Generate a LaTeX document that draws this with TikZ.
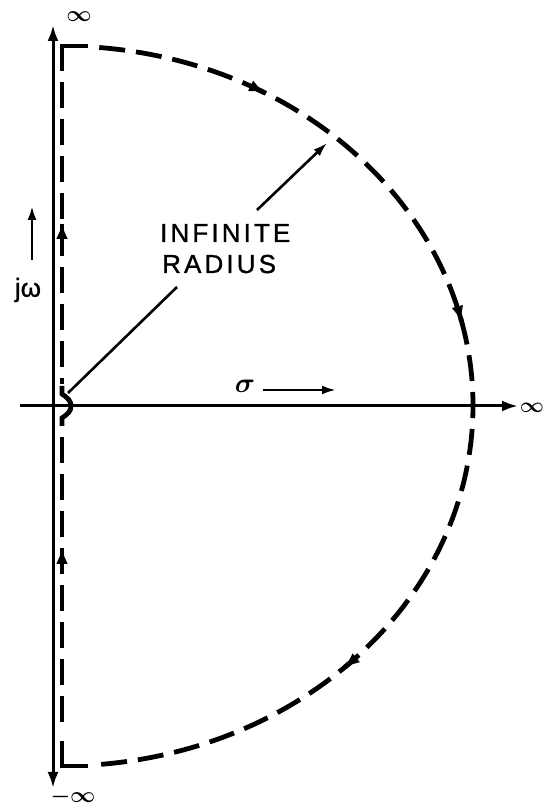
\documentclass[tikz,border=0pt]{standalone}
\usepackage{fix-cm}
\usepackage{amsmath}
\usepackage{bm}
\usepackage{fontspec}
\newfontfamily\lblfont[LetterSpace=12,FakeBold=1.2]{Liberation Sans}
\newfontfamily\symfont[FakeBold=1]{Liberation Sans}
\usetikzlibrary{arrows.meta}
\begin{document}
\begin{tikzpicture}[x=1pt,y=1pt,
  tipA/.tip={Latex[length=16pt,width=11pt]},
  axisline/.style={line width=3pt},
  contour/.style={line width=4.8pt, dash pattern=on 26pt off 11pt},
  corner/.style={line width=4.8pt, line join=miter},
  ctip/.style={line width=4.8pt,-{Latex[length=16pt,width=12pt]}},
  leader/.style={line width=2.6pt},
  lbl/.style={inner sep=0pt, anchor=base west}]
\useasboundingbox (0,0) rectangle (544,809);
% axes
\coordinate (vb) at (53,21); \coordinate (vt) at (53,784);
\coordinate (hl) at (20,403); \coordinate (hr) at (518,403);
\draw[axisline,tipA-tipA] (vb) -- (vt);
\draw[axisline,-tipA] (hl) -- (hr);
\node[inner sep=0pt] (inftop) at (79,792) {\fontsize{22}{22}\selectfont$\bm{\infty}$};
\node[inner sep=0pt] (infbot) at (73,12) {\fontsize{22}{22}\selectfont$\bm{-\infty}$};
\node[inner sep=0pt] (infright) at (532,401) {\fontsize{21}{21}\selectfont$\bm{\infty}$};
% contour corners
\draw[corner] (62,738) -- (62,763) -- (88,763);
\draw[corner] (62,68) -- (62,43) -- (88,43);
% arc
\draw[contour] ({62+411*cos(84.8)},{403+360*sin(84.8)})
  arc[start angle=84.8, end angle=-84.8, x radius=411pt, y radius=360pt];
% vertical parts with bump
\draw[contour] (62,727) -- (62,425);
\draw[corner] (62,423) -- (62,415) .. controls (68,411) and (71,408) .. (71,403) .. controls (71,398) and (68,395) .. (62,391) -- (62,383);
\draw[contour] (62,372) -- (62,79);
% direction arrows
\coordinate (d1) at (62,261);
\coordinate (d2) at (62,586);
\coordinate (a1) at ({62+411*cos(60.4)},{403+360*sin(60.4)});
\coordinate (a2) at ({62+411*cos(13.5)},{403+360*sin(13.5)});
\coordinate (a3) at ({62+411*cos(-46.7)},{403+360*sin(-46.7)});
\draw[ctip] (d1) ++(270:1pt) -- (d1);
\draw[ctip] (d2) ++(270:1pt) -- (d2);
\draw[ctip] (a1) ++(153.5:1pt) -- (a1);
\draw[ctip] (a2) ++(105.3:1pt) -- (a2);
\draw[ctip] (a3) ++(39.6:1pt) -- (a3);
% labels
\node[lbl] (inf1) at (160,567) {\fontsize{26}{26}\selectfont\lblfont INFINITE};
\node[lbl] (inf2) at (162,536) {\fontsize{26}{26}\selectfont\lblfont RADIUS};
\coordinate (l1a) at (68,416); \coordinate (l1b) at (177,522);
\coordinate (l2a) at (257,599); \coordinate (l2b) at (327,666);
\draw[leader] (l1a) -- (l1b);
\draw[leader,-{Latex[length=14pt,width=9pt]}] (l2a) -- (l2b);
% jw
\node (jw) at (28,519) {\fontsize{26}{26}\selectfont\symfont jω};
\coordinate (jwa) at (32,549); \coordinate (jwb) at (32,603);
\draw[leader,-{Latex[length=14pt,width=9pt]}] (jwa) -- (jwb);
% sigma
\node (sig) at (245,423) {\fontsize{28}{28}\selectfont$\bm{\sigma}$};
\coordinate (sa) at (263,419); \coordinate (sb) at (336,419);
\draw[leader,-{Latex[length=14pt,width=9pt]}] (sa) -- (sb);
\end{tikzpicture}
\end{document}
